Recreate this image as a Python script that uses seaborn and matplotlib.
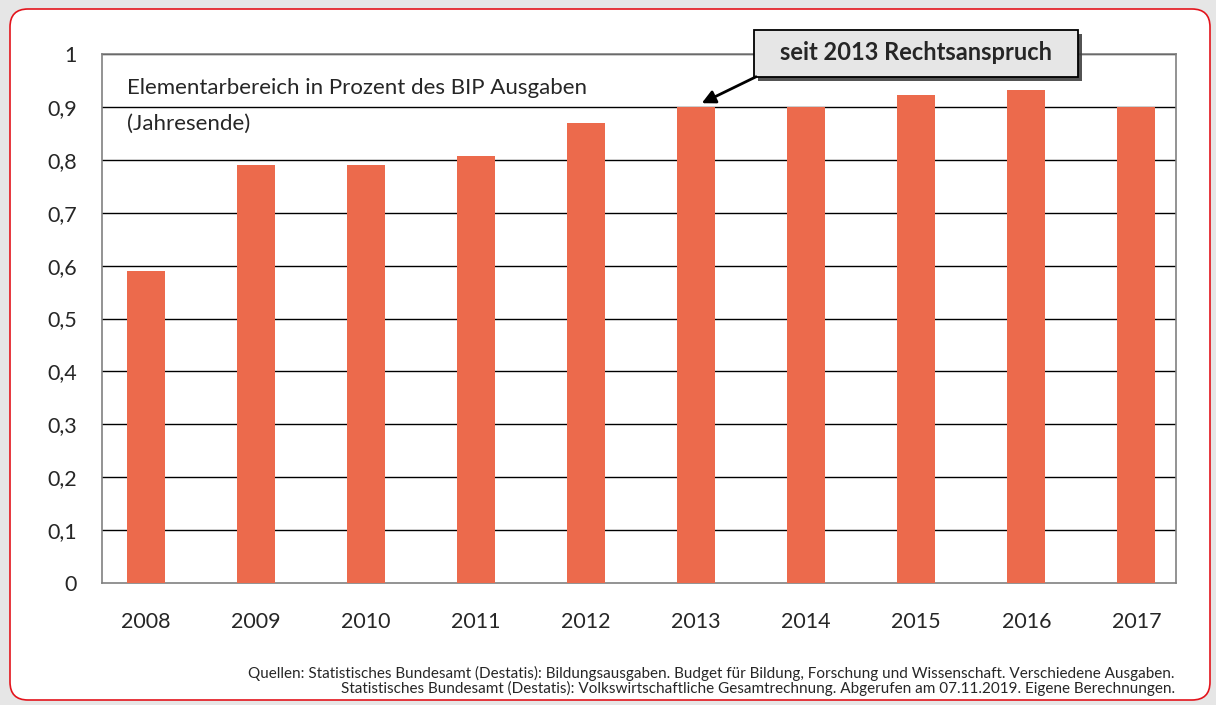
import matplotlib
matplotlib.use("Agg")
import matplotlib.pyplot as plt
import matplotlib.patheffects as pe
from matplotlib.patches import FancyBboxPatch, Rectangle
from matplotlib.ticker import FixedLocator
import seaborn as sns
import pandas as pd

years = ["2008", "2009", "2010", "2011", "2012", "2013", "2014", "2015", "2016", "2017"]
anteil = [0.59, 0.79, 0.79, 0.807, 0.87, 0.90, 0.90, 0.922, 0.932, 0.90]
y_ticks = [0, 0.1, 0.2, 0.3, 0.4, 0.5, 0.6, 0.7, 0.8, 0.9, 1.0]
y_labels = ["0", "0,1", "0,2", "0,3", "0,4", "0,5", "0,6", "0,7", "0,8", "0,9", "1"]

title_lines = ["Elementarbereich in Prozent des BIP Ausgaben", "(Jahresende)"]
note = "seit 2013 Rechtsanspruch"
source = ("Quellen: Statistisches Bundesamt (Destatis): Bildungsausgaben. Budget für Bildung, "
          "Forschung und Wissenschaft. Verschiedene Ausgaben.\n"
          "Statistisches Bundesamt (Destatis): Volkswirtschaftliche Gesamtrechnung. "
          "Abgerufen am 07.11.2019. Eigene Berechnungen.")

sns.set_theme()
sns.set_style("white")
plt.rcParams["font.family"] = ["Lato", "DejaVu Sans"]

df = pd.DataFrame({"Jahr": years, "Anteil": anteil})

fig = plt.figure(figsize=(12.16, 7.05), dpi=100)
fig.patch.set_facecolor("#e6e6e6")

# white rounded panel with red border
panel = FancyBboxPatch((10, 5), 1200, 691, boxstyle="round,pad=0,rounding_size=18",
                       transform=None, facecolor="white", edgecolor="#e3141c",
                       linewidth=1.2, zorder=-5)
fig.patches.append(panel)

ax = fig.add_axes([0.0839, 0.1730, 0.8832, 0.7504])
ax.set_facecolor("none")
ax.set_zorder(2)

sns.barplot(data=df, x="Jahr", y="Anteil", color="#ec6a4c", width=0.345,
            saturation=1, linewidth=0, ax=ax, zorder=3)

ax.set_ylim(0, 1.0)
ax.set_xlim(-0.4, len(years) - 0.64)
ax.yaxis.set_major_locator(FixedLocator(y_ticks))
ax.set_yticklabels(y_labels)
for v in y_ticks[1:]:
    ax.axhline(v, color="black", lw=1, zorder=1)
for s in ax.spines.values():
    s.set_visible(True)
    s.set_color("#808080")
    s.set_linewidth(1.2)
ax.set_xlabel("")
ax.set_ylabel("")
ax.tick_params(axis="y", length=0, pad=18, labelsize=15.5)
ax.tick_params(axis="x", length=0, pad=21, labelsize=15.5)

ax.text(0.023, 0.936, title_lines[0], transform=ax.transAxes, fontsize=16,
        va="center", ha="left")
ax.text(0.023, 0.868, title_lines[1], transform=ax.transAxes, fontsize=16,
        va="center", ha="left")

# annotation box with shadow and arrow towards 2013
box = Rectangle((0.607, 0.957), 0.302, 0.088, transform=ax.transAxes,
                facecolor="#e6e6e6", edgecolor="black", lw=1.3, clip_on=False,
                zorder=6)
box.set_path_effects([
    pe.SimplePatchShadow(offset=(3, -3), shadow_rgbFace="#404040", alpha=0.9),
    pe.Normal()])
ax.add_patch(box)
ax.text(0.758, 1.002, note, transform=ax.transAxes, ha="center", va="center",
        fontsize=17, fontweight="bold", zorder=7, clip_on=False)
ax.annotate("", xy=(5.05, 0.907), xytext=(0.609, 0.957),
            textcoords="axes fraction", annotation_clip=False,
            arrowprops=dict(arrowstyle="-|>", color="black", lw=2,
                            mutation_scale=20, shrinkA=0, shrinkB=0),
            zorder=6)

fig.text(1175 / 1216, 1 - 681 / 705, source, ha="right", va="center",
         fontsize=11, linespacing=1.05)

fig.savefig("out.png", dpi=100, facecolor=fig.get_facecolor())
